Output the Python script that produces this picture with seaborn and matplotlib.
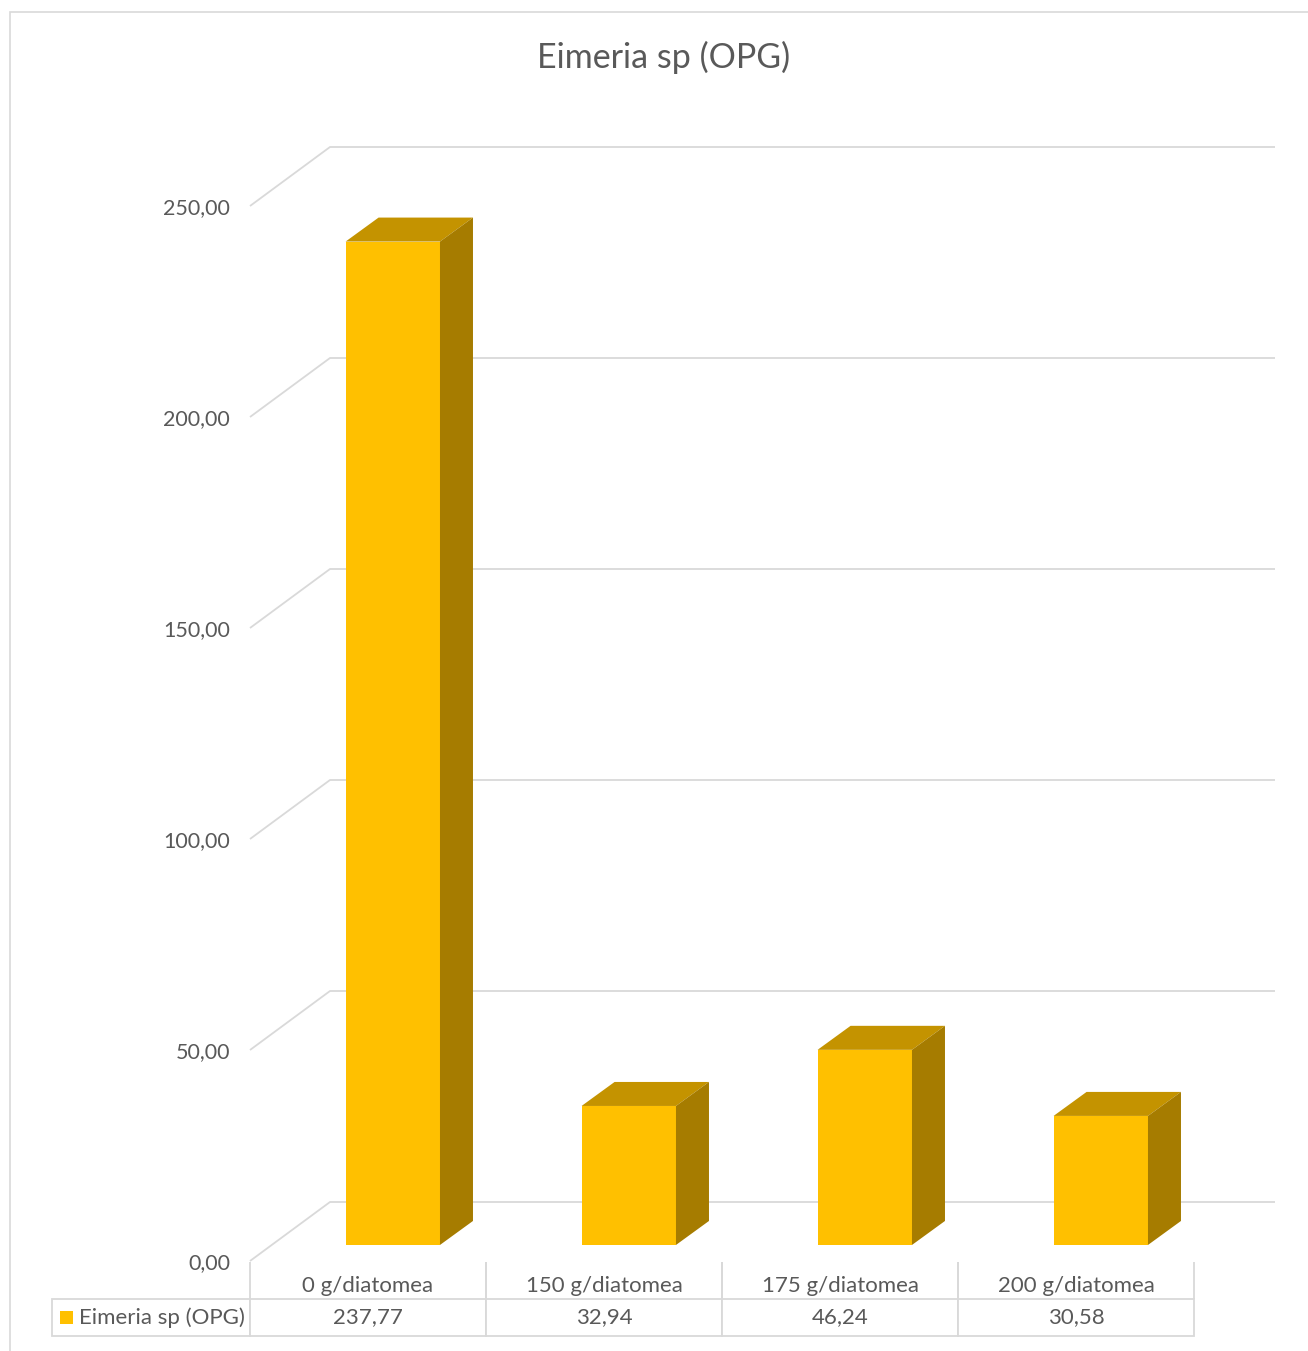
import numpy as np
import pandas as pd
import seaborn as sns
import matplotlib.pyplot as plt
from matplotlib.patches import Polygon, Rectangle

# ---------------- data ----------------
categories = ['0 g/diatomea', '150 g/diatomea', '175 g/diatomea', '200 g/diatomea']
values = [237.77, 32.94, 46.24, 30.58]
value_labels = ['237,77', '32,94', '46,24', '30,58']
series_name = 'Eimeria sp (OPG)'
title = 'Eimeria sp (OPG)'
yticks = [0, 50, 100, 150, 200, 250]
ytick_labels = ['0,00', '50,00', '100,00', '150,00', '200,00', '250,00']

# ---------------- style ----------------
sns.set_theme(style='white')
plt.rcParams['font.family'] = ['Lato', 'DejaVu Sans']
TXT = '#595959'
GRID = '#d9d9d9'
FRONT = '#FFC000'
TOP = '#C49300'
SIDE = '#A67C00'

W, H = 1308, 1351
fig = plt.figure(figsize=(W / 100, H / 100), dpi=100)
fig.patch.set_facecolor('white')


def rect(x0, y0, x1, y1):
    return [x0 / W, 1 - y1 / H, (x1 - x0) / W, (y1 - y0) / H]


# chart border
fig.add_artist(Rectangle((10 / W, -0.05), 1.1, 1 - 12 / H + 0.05,
                         transform=fig.transFigure, fill=False,
                         edgecolor=GRID, lw=1.2, clip_on=False))

# plot axes: x in category units, y in value units
PX_PER_UNIT_Y = 4.22
PX_PER_CAT = 236.0
ax = fig.add_axes(rect(250, 147, 1275, 1261))
XMIN = -0.5
XMAX = XMIN + (1275 - 250) / PX_PER_CAT
YMAX = (1261 - 147) / PX_PER_UNIT_Y
DX = 80 / PX_PER_CAT          # full depth offset (x, in category units)
DY = 59 / PX_PER_UNIT_Y       # full depth offset (y, in value units)

# gridlines (front diagonal + back-wall horizontal)
for v, lab in zip(yticks, ytick_labels):
    ax.plot([XMIN, XMIN + DX, XMAX], [v, v + DY, v + DY], color=GRID,
            lw=1.3, zorder=0, solid_capstyle='butt', clip_on=False)
    ax.text(XMIN - 20 / PX_PER_CAT, v - 2.5 / PX_PER_UNIT_Y, lab,
            ha='right', va='center', fontsize=15.5, color=TXT)

# bars (front faces) via seaborn
df = pd.DataFrame({'cat': categories, 'val': values})
sns.barplot(data=df, x='cat', y='val', order=categories, color=FRONT,
            saturation=1, width=0.4, ax=ax, edgecolor='none', linewidth=0,
            zorder=2)

SHIFT_X = 0.105               # front face offset into depth
SHIFT_Y = 3.8
BDX = 33 / PX_PER_CAT         # bar depth
BDY = 24 / PX_PER_UNIT_Y
for p in ax.patches:
    x0 = p.get_x() + SHIFT_X
    w = p.get_width()
    h = p.get_height()
    p.set_x(x0)
    p.set_y(SHIFT_Y)
    y0 = SHIFT_Y
    top = Polygon([(x0, y0 + h), (x0 + w, y0 + h),
                   (x0 + w + BDX, y0 + h + BDY), (x0 + BDX, y0 + h + BDY)],
                  closed=True, facecolor=TOP, edgecolor='none', zorder=2)
    side = Polygon([(x0 + w, y0), (x0 + w + BDX, y0 + BDY),
                    (x0 + w + BDX, y0 + h + BDY), (x0 + w, y0 + h)],
                   closed=True, facecolor=SIDE, edgecolor='none', zorder=2)
    ax.add_patch(top)
    ax.add_patch(side)

ax.set_xlim(XMIN, XMAX)
ax.set_ylim(0, YMAX)
ax.axis('off')

# title
fig.text(664 / W, 1 - 57 / H, title, ha='center', va='center',
         fontsize=24.5, color=TXT)

# data table
TX0, TY0, TX1, TY1 = 52, 1262, 1194, 1336
tax = fig.add_axes(rect(TX0, TY0, TX1, TY1))
tax.set_xlim(TX0, TX1)
tax.set_ylim(TY1, TY0)
tax.axis('off')
total_w = TX1 - TX0
col_w = [198 / total_w] + [236 / total_w] * 4
cell_text = [[''] * 5, [''] + value_labels]
tbl = tax.table(cellText=cell_text, colWidths=col_w, cellLoc='center',
                bbox=[0, 0, 1, 1])
tbl.auto_set_font_size(False)
tbl.set_fontsize(16)
for (r, c), cell in tbl.get_celld().items():
    cell.set_edgecolor(GRID)
    cell.set_linewidth(1.3)
    cell.get_text().set_color(TXT)
    if r == 0:
        cell.visible_edges = '' if c == 0 else 'LR'
    else:
        cell.visible_edges = 'closed'

# header (category) labels
for i, cat in enumerate(categories):
    cx = TX0 + 198 + 236 * i + 118
    tax.text(cx, 1286, cat, ha='center', va='center', fontsize=16, color=TXT)

# legend key + row label
tax.add_patch(Rectangle((60, 1311), 13, 13, facecolor=FRONT,
                        edgecolor='none', clip_on=False))
tax.text(79, 1318, series_name, ha='left', va='center', fontsize=16,
         color=TXT)

fig.savefig('out.png', dpi=100, facecolor='white')
